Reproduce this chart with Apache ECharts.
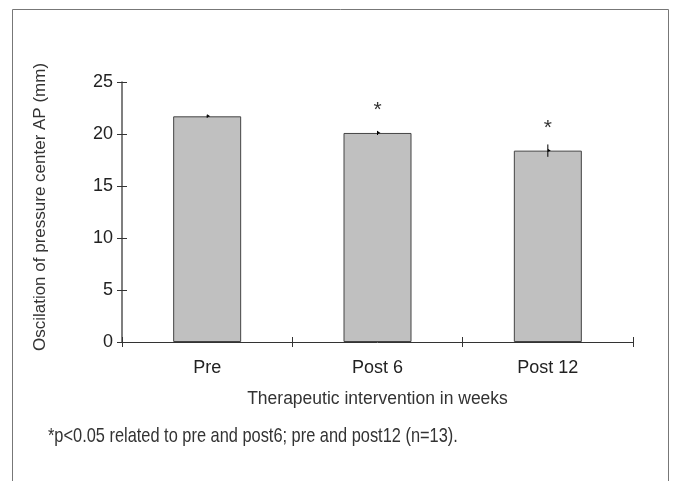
<!DOCTYPE html>
<html>
<head>
<meta charset="utf-8">
<script src="https://cdn.jsdelivr.net/npm/echarts@6/dist/echarts.min.js"></script>
<style>
html,body{margin:0;padding:0;background:#fff;}
#chart{width:676px;height:481px;}
</style>
</head>
<body>
<div id="chart"></div>
<script>
var categories = ["Pre", "Post 6", "Post 12"];
var values = [21.7, 20.1, 18.4];
var errors = [0.05, 0.1, 0.5];
var significance = ["", "*", "*"];
var yTicks = [0, 5, 10, 15, 20, 25];

var chart = echarts.init(document.getElementById('chart'));
var FONT = '"Liberation Sans", Arial, sans-serif';
var gridRect = { left: 122, right: 43, top: 82, bottom: 139, containLabel: false };

var option = {
  animation: false,
  backgroundColor: '#fff',
  grid: [gridRect, gridRect],
  xAxis: [{
    type: 'category',
    gridIndex: 0,
    data: categories,
    boundaryGap: true,
    axisLine: { lineStyle: { color: '#333', width: 1 } },
    axisTick: { show: true, length: 5, lineStyle: { color: '#333' } },
    axisLabel: { color: '#222', fontSize: 18, fontFamily: FONT, margin: 17 },
    name: 'Therapeutic intervention in weeks',
    nameLocation: 'middle',
    nameGap: 48,
    nameTextStyle: { color: '#333', fontSize: 17.5, fontFamily: FONT }
  }, {
    type: 'category',
    gridIndex: 1,
    data: categories,
    boundaryGap: true,
    axisLine: { show: false },
    axisTick: { show: true, inside: true, length: 5, lineStyle: { color: '#333' } },
    axisLabel: { show: false }
  }],
  yAxis: [{
    type: 'value',
    gridIndex: 0,
    min: yTicks[0],
    max: yTicks[yTicks.length - 1],
    interval: 5,
    splitLine: { show: false },
    axisLine: { show: true, lineStyle: { color: '#555', width: 1.5 } },
    axisTick: { show: true, length: 5, lineStyle: { color: '#333' } },
    axisLabel: { color: '#222', fontSize: 18, fontFamily: FONT, margin: 9 },
    name: 'Oscilation of pressure center AP (mm)',
    nameLocation: 'middle',
    nameGap: 73,
    nameTextStyle: { color: '#333', fontSize: 17, fontFamily: FONT, padding: [0, 0, 0, 10] }
  }, {
    type: 'value',
    gridIndex: 1,
    min: yTicks[0],
    max: yTicks[yTicks.length - 1],
    interval: 5,
    splitLine: { show: false },
    axisLine: { show: false },
    axisTick: { show: true, inside: true, length: 5, lineStyle: { color: '#333' } },
    axisLabel: { show: false }
  }],
  series: [
    {
      type: 'bar',
      data: values,
      barWidth: 68,
      itemStyle: { color: '#c0c0c0', borderColor: '#444', borderWidth: 1 },
      label: {
        show: true,
        position: 'top',
        distance: 12,
        formatter: function (p) { return significance[p.dataIndex]; },
        color: '#333',
        fontSize: 21,
        fontFamily: FONT
      }
    },
    {
      type: 'custom',
      data: values.map(function (v, i) { return [i, v, errors[i]]; }),
      renderItem: function (params, api) {
        var x = api.value(0), v = api.value(1), e = api.value(2);
        var pTop = api.coord([x, v + e]);
        var pBot = api.coord([x, v - e]);
        var pMid = api.coord([x, v]);
        return {
          type: 'group',
          children: [
            { type: 'line', shape: { x1: pTop[0], y1: pTop[1] - 1, x2: pBot[0], y2: pBot[1] + 1 }, style: { stroke: '#000', lineWidth: 1 } },
            { type: 'polygon', shape: { points: [[pMid[0], pMid[1] - 2], [pMid[0] + 3, pMid[1]], [pMid[0], pMid[1] + 1]] }, style: { fill: '#000' } }
          ]
        };
      },
      z: 10
    }
  ],
  graphic: [
    { type: 'rect', left: 10, top: 7, shape: { width: 656, height: 500 }, style: { fill: 'none', stroke: '#777', lineWidth: 1 }, silent: true },
    { type: 'text', x: 48, y: 426, scaleX: 0.78, style: { text: '*p<0.05 related to pre and post6; pre and post12 (n=13).', fill: '#333', fontSize: 21, fontFamily: FONT } }
  ]
};
chart.setOption(option);
</script>
</body>
</html>
